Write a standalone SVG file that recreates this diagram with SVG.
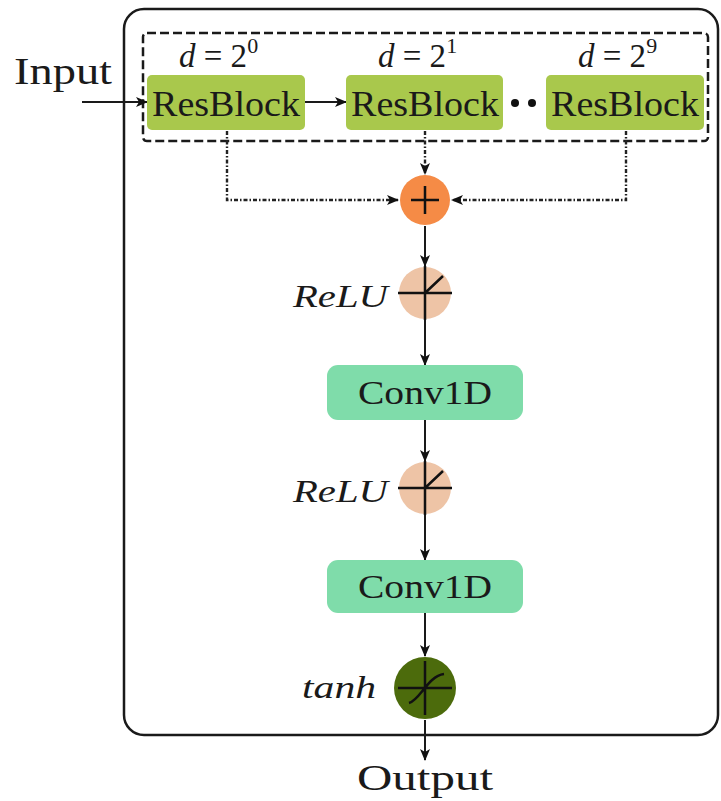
<svg xmlns="http://www.w3.org/2000/svg" width="721" height="801" viewBox="0 0 721 801">
<defs>
<marker id="arr" viewBox="0 0 12 10" refX="11" refY="5" markerWidth="12" markerHeight="10" markerUnits="userSpaceOnUse" orient="auto">
<path d="M0,0 L12,5 L0,10 L3,5 Z" fill="#111"/>
</marker>
<style>
.txt{font-family:"Liberation Serif","DejaVu Serif",serif;fill:#1a1a1a}
.it{font-style:italic}
.line{stroke:#1a1a1a;stroke-width:2;fill:none}
.dot{stroke:#222;stroke-width:2.4;fill:none;stroke-dasharray:4 2 1.5 2}
.res{fill:#a9c84c}
.conv{fill:#7fdcaa}
.relu{fill:#eec4a6}
.sym{stroke:#111;stroke-width:2.5;fill:none}
</style>
</defs>
<rect width="721" height="801" fill="#fff"/>
<rect id="frame" x="124" y="9" width="594" height="726" rx="20" fill="none" stroke="#1a1a1a" stroke-width="2.5"/>
<rect id="group" x="143" y="33" width="565" height="108" rx="4" fill="none" stroke="#1a1a1a" stroke-width="2.5" stroke-dasharray="9 4"/>

<g id="connectors">
<line class="line" x1="82" y1="102" x2="147" y2="102" marker-end="url(#arr)"/>
<line class="line" x1="305" y1="102" x2="346" y2="102" marker-end="url(#arr)"/>
<polyline class="dot" points="227,131 227,200 398,200" marker-end="url(#arr)"/>
<line class="dot" x1="425" y1="131" x2="425" y2="174" marker-end="url(#arr)"/>
<polyline class="dot" points="626,131 626,200 452,200" marker-end="url(#arr)"/>
<line class="line" x1="425" y1="226" x2="425" y2="266" marker-end="url(#arr)"/>
<line class="line" x1="425" y1="320" x2="425" y2="365" marker-end="url(#arr)"/>
<line class="line" x1="425" y1="420" x2="425" y2="461" marker-end="url(#arr)"/>
<line class="line" x1="425" y1="515" x2="425" y2="560" marker-end="url(#arr)"/>
<line class="line" x1="425" y1="613" x2="425" y2="656" marker-end="url(#arr)"/>
<line class="line" x1="425" y1="720" x2="425" y2="760" marker-end="url(#arr)"/>
</g>

<g id="input"><text class="txt" x="14" y="84" font-size="37" textLength="98" lengthAdjust="spacingAndGlyphs">Input</text></g>

<g id="resblock1">
<rect class="res" x="147" y="75" width="158" height="55" rx="5"/>
<text class="txt" x="226" y="116" font-size="35" text-anchor="middle" textLength="148" lengthAdjust="spacingAndGlyphs">ResBlock</text>
<text class="txt" x="179" y="67" font-size="33"><tspan class="it">d</tspan> = 2<tspan font-size="22" dy="-14">0</tspan></text>
</g>
<g id="resblock2">
<rect class="res" x="346" y="75" width="157" height="55" rx="5"/>
<text class="txt" x="425" y="116" font-size="35" text-anchor="middle" textLength="148" lengthAdjust="spacingAndGlyphs">ResBlock</text>
<text class="txt" x="378" y="67" font-size="33"><tspan class="it">d</tspan> = 2<tspan font-size="22" dy="-14">1</tspan></text>
</g>
<g id="dots">
<circle cx="515" cy="103" r="4" fill="#111"/>
<circle cx="532" cy="103" r="4" fill="#111"/>
</g>
<g id="resblock3">
<rect class="res" x="546" y="75" width="158" height="55" rx="5"/>
<text class="txt" x="625" y="116" font-size="35" text-anchor="middle" textLength="148" lengthAdjust="spacingAndGlyphs">ResBlock</text>
<text class="txt" x="578" y="67" font-size="33"><tspan class="it">d</tspan> = 2<tspan font-size="22" dy="-14">9</tspan></text>
</g>

<g id="sum">
<circle cx="425" cy="200" r="25" fill="#f58b46"/>
<path class="sym" d="M411,200 H439 M425,186 V214"/>
</g>

<g id="relu1">
<circle cx="425" cy="293" r="26" class="relu"/>
<path class="sym" d="M398,293 H452 M425,266 V320 M425,293 L443,276"/>
<text class="txt it" x="388" y="307" font-size="32" text-anchor="end" textLength="95" lengthAdjust="spacingAndGlyphs">ReLU</text>
</g>

<g id="conv1">
<rect class="conv" x="327" y="365" width="196" height="55" rx="11"/>
<text class="txt" x="425" y="404" font-size="34" text-anchor="middle" textLength="134" lengthAdjust="spacingAndGlyphs">Conv1D</text>
</g>

<g id="relu2">
<circle cx="425" cy="488" r="26" class="relu"/>
<path class="sym" d="M398,488 H452 M425,461 V515 M425,488 L443,471"/>
<text class="txt it" x="388" y="502" font-size="32" text-anchor="end" textLength="95" lengthAdjust="spacingAndGlyphs">ReLU</text>
</g>

<g id="conv2">
<rect class="conv" x="327" y="560" width="196" height="53" rx="11"/>
<text class="txt" x="425" y="598" font-size="34" text-anchor="middle" textLength="134" lengthAdjust="spacingAndGlyphs">Conv1D</text>
</g>

<g id="tanh">
<circle cx="425" cy="688" r="31" fill="#4c6b0c"/>
<path class="sym" d="M398,688 H452 M425,661 V715 M409,703 C420,700 428,676 444,674"/>
<text class="txt it" x="376" y="698" font-size="32" text-anchor="end" textLength="74" lengthAdjust="spacingAndGlyphs">tanh</text>
</g>

<g id="output"><text class="txt" x="425" y="790" font-size="36" text-anchor="middle" textLength="136" lengthAdjust="spacingAndGlyphs">Output</text></g>
</svg>
